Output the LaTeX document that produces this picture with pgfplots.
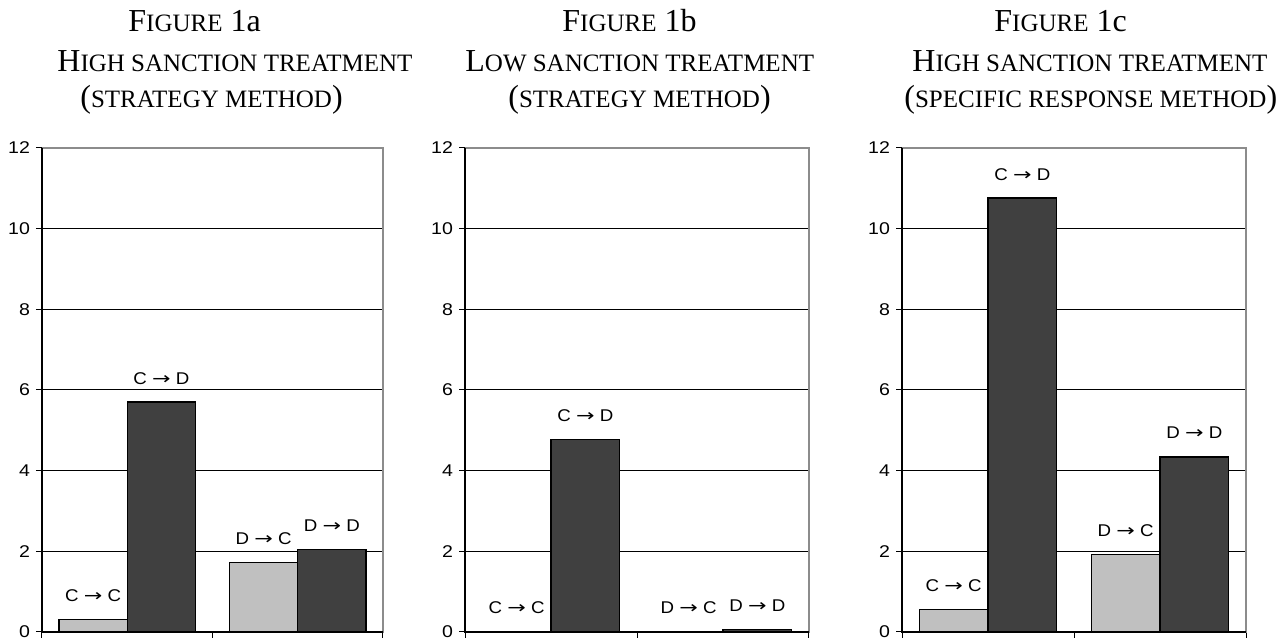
\documentclass[border=0pt]{standalone}
\usepackage{fontspec}
\setmainfont{Liberation Serif}
\newfontfamily\ticksans[FakeStretch=1.15]{Liberation Sans}
\newfontfamily\labsans[FakeStretch=1.1]{Liberation Sans}
\newfontfamily\arrowfont[FakeStretch=1.3]{DejaVu Sans}
\usepackage{pgfplots}
\pgfplotsset{compat=1.18}
\definecolor{lightbar}{HTML}{C0C0C0}
\definecolor{darkbar}{HTML}{404040}
\definecolor{axisgray}{HTML}{8C8C8C}
\newcommand\BigL[1]{{\fontsize{16}{16}\selectfont #1}}
\newcommand\SmL[1]{{\fontsize{12.5}{12.5}\selectfont #1}}
\protected\def\arr{{\arrowfont →}}
\newcommand\tickfont{\ticksans\fontsize{8.5}{9}\selectfont}
\newcommand\labfont{\labsans\fontsize{8.5}{9}\selectfont}
\pgfplotsset{panel/.style={
  scale only axis, height=242pt, anchor=south west,
  xmin=-0.5, xmax=1.5, ymin=0, ymax=12,
  xtick={-0.5,0.5,1.5}, xticklabels={},
  ytick={0,2,...,10}, extra y ticks={12}, extra y tick style={grid=none},
  ymajorgrids, grid style={black, line width=0.5pt},
  axis line style={draw=axisgray, line width=0.6pt},
  tick style={black, line width=0.5pt}, tick align=outside, major tick length=3pt,
  tick pos=left,
  yticklabel style={font=\tickfont, xshift=0.5pt},
  /pgf/number format/assume math mode=true,
  ybar, bar width=0.4, bar shift=0pt,
  nodes near coords, point meta=explicit symbolic,
  nodes near coords style={font=\labfont, anchor=base, yshift=9pt, inner sep=0pt},
  clip=false,
},
lightb/.style={draw=black, line width=0.6pt, fill=lightbar},
darkb/.style={draw=black, line width=0.6pt, fill=darkbar},
}
\begin{document}
\begin{tikzpicture}
\useasboundingbox (0,0) rectangle (643.5pt,321pt);
% titles
\node[anchor=base west, inner sep=0pt] at (64pt,305pt) {\BigL{F}\SmL{IGURE}\BigL{\ 1a}};
\node[anchor=base west, inner sep=0pt] at (28.5pt,285pt) {\BigL{H}\SmL{IGH SANCTION TREATMENT}};
\node[anchor=base west, inner sep=0pt] at (40pt,267pt) {\BigL{(}\SmL{STRATEGY METHOD}\BigL{)}};
\node[anchor=base west, inner sep=0pt] at (281pt,305pt) {\BigL{F}\SmL{IGURE}\BigL{\ 1b}};
\node[anchor=base west, inner sep=0pt] at (232.5pt,285pt) {\BigL{L}\SmL{OW SANCTION TREATMENT}};
\node[anchor=base west, inner sep=0pt] at (254pt,267pt) {\BigL{(}\SmL{STRATEGY METHOD}\BigL{)}};
\node[anchor=base west, inner sep=0pt] at (497pt,305pt) {\BigL{F}\SmL{IGURE}\BigL{\ 1c}};
\node[anchor=base west, inner sep=0pt] at (456pt,285pt) {\BigL{H}\SmL{IGH SANCTION TREATMENT}};
\node[anchor=base west, inner sep=0pt] at (452pt,267pt) {\BigL{(}\SmL{SPECIFIC RESPONSE METHOD}\BigL{)}};

\begin{axis}[panel, width=170.5pt, at={(21pt,5pt)}]
\addplot[lightb] coordinates {(-0.2,0.30) [C \arr{} C] (0.8,1.72) [D \arr{} C]};
\addplot[darkb] coordinates {(0.2,5.70) [C \arr{} D] (1.2,2.04) [D \arr{} D]};
\draw[black, line width=0.6pt] (rel axis cs:0,1) -- (rel axis cs:0,0) -- (rel axis cs:1,0);
\end{axis}

\begin{axis}[panel, width=172pt, at={(232.5pt,5pt)}]
\addplot[lightb] coordinates {(-0.2,0) [C \arr{} C] (0.8,0) [D \arr{} C]};
\addplot[darkb] coordinates {(0.2,4.77) [C \arr{} D] (1.2,0.07) [D \arr{} D]};
\draw[black, line width=0.6pt] (rel axis cs:0,1) -- (rel axis cs:0,0) -- (rel axis cs:1,0);
\end{axis}

\begin{axis}[panel, width=172pt, at={(451pt,5pt)}]
\addplot[lightb] coordinates {(-0.2,0.55) [C \arr{} C] (0.8,1.93) [D \arr{} C]};
\addplot[darkb] coordinates {(0.2,10.76) [C \arr{} D] (1.2,4.34) [D \arr{} D]};
\draw[black, line width=0.6pt] (rel axis cs:0,1) -- (rel axis cs:0,0) -- (rel axis cs:1,0);
\end{axis}
\end{tikzpicture}
\end{document}
